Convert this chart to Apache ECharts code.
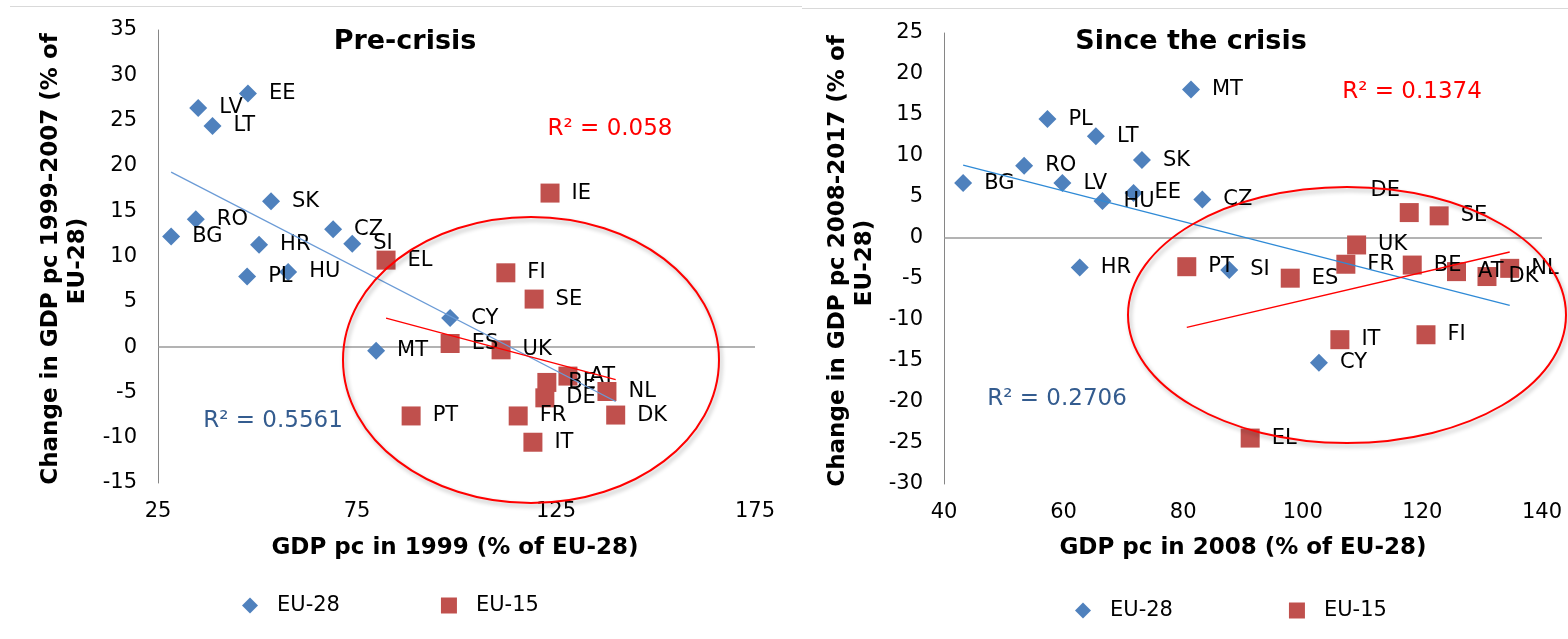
<!DOCTYPE html>
<html><head><meta charset="utf-8">
<script src="https://cdn.jsdelivr.net/npm/echarts@6/dist/echarts.min.js"></script>
<style>html,body{margin:0;padding:0;background:#fff;overflow:hidden}#c{width:1568px;height:639px}</style>
</head><body><div id="c"></div>
<script>
// ---- data ----
const countries = ['BE','BG','CZ','DK','DE','EE','IE','EL','ES','FR','HR','IT','CY','LV','LT','HU','MT','NL','AT','PL','PT','RO','SI','SK','FI','SE','UK'];
const eu15 = ['BE','DK','DE','IE','EL','ES','FR','IT','NL','AT','PT','FI','SE','UK'];
// Pre-crisis: GDP pc 1999 (% EU-28) and change 1999-2007
const preX = [122.7, 28.3, 69.0, 140.0, 122.2, 47.6, 123.5, 82.3, 98.4, 115.5, 50.4, 119.2, 98.4, 35.1, 38.7, 57.7, 79.8, 137.8, 128.0, 47.4, 88.6, 34.5, 73.8, 53.4, 112.4, 119.5, 111.2];
const preY = [-3.9, 12.2, 13.0, -7.5, -5.6, 28.0, 17.0, 9.6, 0.4, -7.6, 11.3, -10.5, 3.2, 26.4, 24.4, 8.3, -0.4, -4.9, -3.2, 7.8, -7.6, 14.1, 11.4, 16.1, 8.2, 5.3, -0.3];
// Since the crisis: GDP pc 2008 (% EU-28) and change 2008-2017 (IE off the chart)
const postX = [118.3, 43.2, 83.2, 130.8, 117.8, 71.7, null, 91.2, 97.9, 107.2, 62.7, 106.2, 102.7, 59.8, 65.4, 66.5, 81.3, 134.6, 125.7, 57.3, 80.6, 53.4, 87.7, 73.1, 120.6, 122.8, 109.0];
const postY = [-3.3, 6.7, 4.7, -4.7, 3.1, 5.5, null, -24.4, -4.9, -3.2, -3.6, -12.4, -15.2, 6.7, 12.4, 4.5, 18.1, -3.7, -4.1, 14.5, -3.5, 8.8, -3.9, 9.5, -11.8, 2.7, -0.85];
const preXTicks = [25, 75, 125, 175];
const preYTicks = [-15, -10, -5, 0, 5, 10, 15, 20, 25, 30, 35];
const postXTicks = [40, 60, 80, 100, 120, 140];
const postYTicks = [-30, -25, -20, -15, -10, -5, 0, 5, 10, 15, 20, 25];
const r2Texts = ['R² = 0.058', 'R² = 0.5561', 'R² = 0.1374', 'R² = 0.2706'];
const titles = ['Pre-crisis', 'Since the crisis'];
const xTitles = ['GDP pc in 1999 (% of EU-28)', 'GDP pc in 2008 (% of EU-28)'];
const yTitles = [['Change in GDP pc 1999-2007 (% of', 'EU-28)'], ['Change in GDP pc 2008-2017 (% of', 'EU-28)']];
const seriesNames = ['EU-28', 'EU-15'];

// ---- helpers ----
function points(xs, ys, subset) {
  const out = [];
  countries.forEach((c, i) => {
    if (xs[i] == null || ys[i] == null) return;
    if (subset && subset.indexOf(c) < 0) return;
    out.push({ name: c, value: [xs[i], ys[i]] });
  });
  return out;
}
function trend(pts) {
  const n = pts.length;
  let mx = 0, my = 0;
  pts.forEach(p => { mx += p.value[0]; my += p.value[1]; });
  mx /= n; my /= n;
  let sxy = 0, sxx = 0, lo = Infinity, hi = -Infinity;
  pts.forEach(p => {
    sxy += (p.value[0] - mx) * (p.value[1] - my);
    sxx += (p.value[0] - mx) ** 2;
    lo = Math.min(lo, p.value[0]); hi = Math.max(hi, p.value[0]);
  });
  const b = sxy / sxx, a = my - b * mx;
  return [[lo, a + b * lo], [hi, a + b * hi]];
}
const FONT = 'DejaVu Sans';
const BLUE = '#4f81bd', RED = '#c0504d';
const labelBase = { show: true, position: 'right', distance: 12, color: '#000', fontSize: 21, fontFamily: FONT };

function axisFromTicks(ticks, idx, type) {
  return {
    type: 'value', gridIndex: idx, min: ticks[0], max: ticks[ticks.length - 1],
    interval: ticks[1] - ticks[0],
    splitLine: { show: false }, axisTick: { show: false },
    axisLabel: { color: '#000', fontSize: 21, fontFamily: FONT, margin: type === 'x' ? 18 : 21 },
    axisLine: type === 'x' ? { show: false } : { show: true, onZero: false, lineStyle: { color: '#868686', width: 1 } }
  };
}

const sets = [
  { xs: preX, ys: preY, blueTrend: '#6b9bd6', aboveLabels: [] },
  { xs: postX, ys: postY, blueTrend: '#2f8ad6', aboveLabels: ['DE'] }
];
const series = [];
sets.forEach((s, i) => {
  const all = points(s.xs, s.ys);
  const sub = points(s.xs, s.ys, eu15);
  series.push({
    name: seriesNames[0], type: 'scatter', xAxisIndex: i, yAxisIndex: i,
    symbol: 'diamond', symbolSize: 18, itemStyle: { color: BLUE, opacity: 1 }, z: 2,
    data: all.map(p => ({ name: p.name, value: p.value, label: { show: eu15.indexOf(p.name) < 0 } })),
    label: Object.assign({}, labelBase, { formatter: '{b}' }),
    markLine: { silent: true, symbol: 'none', label: { show: false }, lineStyle: { color: '#9a9a9a', width: 1.5, type: 'solid' }, data: [{ yAxis: 0 }], z: 1 }
  });
  series.push({
    name: seriesNames[1], type: 'scatter', xAxisIndex: i, yAxisIndex: i,
    symbol: 'rect', symbolSize: 19, itemStyle: { color: RED, opacity: 1 }, z: 3,
    data: sub.map(p => s.aboveLabels.indexOf(p.name) >= 0
      ? { name: p.name, value: p.value, label: { position: 'top', distance: 2, offset: [-24, 0] } }
      : p),
    label: Object.assign({}, labelBase, { formatter: '{b}' })
  });
  series.push({
    name: 'trend28_' + i, type: 'line', xAxisIndex: i, yAxisIndex: i, data: trend(all),
    showSymbol: false, symbol: 'none', silent: true, z: 4,
    lineStyle: { color: s.blueTrend, width: 1.3 }
  });
  series.push({
    name: 'trend15_' + i, type: 'line', xAxisIndex: i, yAxisIndex: i, data: trend(sub),
    showSymbol: false, symbol: 'none', silent: true, z: 4,
    lineStyle: { color: '#ff0000', width: 1.3 }
  });
});

function txt(text, x, y, size, weight, color, rot) {
  return { type: 'text', x: x, y: y, rotation: rot || 0, z: 50,
    style: { text: text, fill: color || '#000', font: (weight || 'normal') + ' ' + size + 'px "' + FONT + '"', align: 'center', verticalAlign: 'middle' } };
}
const graphics = [
  { type: 'line', shape: { x1: 10, y1: 6.5, x2: 802, y2: 6.5 }, style: { stroke: '#d9d9d9', lineWidth: 1 } },
  { type: 'line', shape: { x1: 802, y1: 8.5, x2: 1568, y2: 8.5 }, style: { stroke: '#d9d9d9', lineWidth: 1 } },
  txt(titles[0], 405, 42, 27, 'bold'),
  txt(titles[1], 1191, 42, 27, 'bold'),
  txt(xTitles[0], 455, 548, 23, 'bold'),
  txt(xTitles[1], 1243, 548, 23, 'bold'),
  txt(yTitles[0][0], 51, 259, 23, 'bold', '#000', Math.PI / 2),
  txt(yTitles[0][1], 78, 261, 23, 'bold', '#000', Math.PI / 2),
  txt(yTitles[1][0], 838, 261, 23, 'bold', '#000', Math.PI / 2),
  txt(yTitles[1][1], 865, 263, 23, 'bold', '#000', Math.PI / 2),
  txt(r2Texts[0], 610, 129, 23, 'normal', '#ff0000'),
  txt(r2Texts[1], 273, 421, 23, 'normal', '#345c8f'),
  txt(r2Texts[2], 1412, 92, 23, 'normal', '#ff0000'),
  txt(r2Texts[3], 1057, 399, 23, 'normal', '#345c8f'),
  { type: 'ellipse', z: 40, shape: { cx: 531, cy: 360, rx: 188, ry: 143 },
    style: { fill: 'none', stroke: '#ff0000', lineWidth: 2, shadowBlur: 4, shadowColor: 'rgba(0,0,0,0.3)', shadowOffsetX: 2, shadowOffsetY: 3 } },
  { type: 'ellipse', z: 40, shape: { cx: 1347, cy: 315, rx: 219, ry: 128 },
    style: { fill: 'none', stroke: '#ff0000', lineWidth: 2, shadowBlur: 4, shadowColor: 'rgba(0,0,0,0.3)', shadowOffsetX: 2, shadowOffsetY: 3 } }
];

const legendBase = {
  orient: 'horizontal', itemWidth: 16, itemHeight: 16, padding: 0,
  textStyle: { fontSize: 21, color: '#000', fontFamily: FONT, padding: [0, 0, 0, 14] },
  data: seriesNames, selectedMode: false
};

const chart = echarts.init(document.getElementById('c'), null, { renderer: 'canvas', width: 1568, height: 639 });
chart.setOption({
  animation: false,
  backgroundColor: '#fff',
  textStyle: { fontFamily: FONT },
  grid: [
    { left: 158, top: 30, width: 597, height: 453 },
    { left: 944, top: 33, width: 598, height: 451 }
  ],
  xAxis: [axisFromTicks(preXTicks, 0, 'x'), axisFromTicks(postXTicks, 1, 'x')],
  yAxis: [axisFromTicks(preYTicks, 0, 'y'), axisFromTicks(postYTicks, 1, 'y')],
  legend: [
    Object.assign({}, legendBase, { left: 242, top: 595, itemGap: 101 }),
    Object.assign({}, legendBase, { left: 1075, top: 600, itemGap: 116 })
  ],
  series: series,
  graphic: { elements: graphics }
});
</script></body></html>
